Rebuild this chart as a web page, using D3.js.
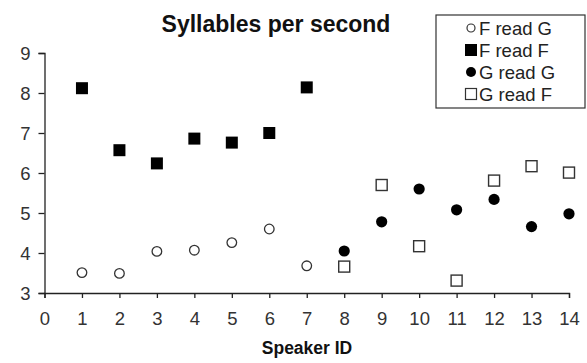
<!DOCTYPE html>
<html><head><meta charset="utf-8">
<script src="https://cdn.jsdelivr.net/npm/d3@7"></script>
<style>body{margin:0;background:#fff}svg{display:block}text{font-family:Arial,"Liberation Sans",sans-serif}</style>
</head><body><svg id="c" width="587" height="363"></svg>
<script>
const speakersF = [1,2,3,4,5,6,7];
const speakersG = [8,9,10,11,12,13,14];
const fReadG = [3.51,3.49,4.04,4.07,4.26,4.60,3.68];
const fReadF = [8.12,6.57,6.24,6.86,6.76,7.00,8.14];
const gReadG = [4.05,4.78,5.60,5.08,5.34,4.66,4.98];
const gReadF = [3.66,5.70,4.17,3.31,5.81,6.17,6.01];
const xTicks = [0,1,2,3,4,5,6,7,8,9,10,11,12,13,14];
const yTicks = [3,4,5,6,7,8,9];
const legendLabels = ["F read G","F read F","G read G","G read F"];

const svg = d3.select("#c");
const x = d3.scaleLinear().domain([0,14]).range([44.5,569]);
const y = d3.scaleLinear().domain([3,9]).range([293,53]);

const xa = svg.append("g").attr("transform","translate(0,293)")
  .call(d3.axisBottom(x).tickValues(xTicks).tickSize(5).tickPadding(14).tickFormat(d3.format("d")));
const ya = svg.append("g").attr("transform","translate(44.5,0)")
  .call(d3.axisLeft(y).tickValues(yTicks).tickSize(6).tickPadding(8).tickFormat(d3.format("d")));
[xa,ya].forEach(a=>{
  a.attr("font-size",null).attr("font-family",null);
  a.select(".domain").attr("stroke","#222").attr("stroke-width",1.3);
  a.selectAll(".tick line").attr("stroke","#222").attr("stroke-width",1.3);
  a.selectAll(".tick text").style("font-size","18.5px").attr("fill","#333");
});
xa.selectAll(".tick text").attr("dy","0.71em");
ya.selectAll(".tick text").attr("dy","0.36em");

svg.append("text").attr("x",276).attr("y",32).attr("text-anchor","middle")
  .style("font-size","23px").attr("font-weight","bold").attr("fill","#111").text("Syllables per second");
svg.append("text").attr("x",307).attr("y",354).attr("text-anchor","middle")
  .style("font-size","17.5px").attr("font-weight","bold").attr("fill","#111").text("Speaker ID");

function drawSquares(xs, ys, fill){
  const s = fill?12:11;
  svg.append("g").selectAll("rect").data(xs).join("rect")
    .attr("x",(d)=>x(d)-s/2).attr("y",(d,i)=>y(ys[i])-s/2)
    .attr("width",s).attr("height",s)
    .attr("fill",fill?"#000":"#fff").attr("stroke",fill?"none":"#333").attr("stroke-width",1.4);
}
function drawCircles(xs, ys, fill){
  svg.append("g").selectAll("circle").data(xs).join("circle")
    .attr("cx",d=>x(d)).attr("cy",(d,i)=>y(ys[i])).attr("r",fill?5.6:4.8)
    .attr("fill",fill?"#000":"#fff").attr("stroke",fill?"none":"#333").attr("stroke-width",1.3);
}
drawCircles(speakersF, fReadG, false);
drawSquares(speakersF, fReadF, true);
drawCircles(speakersG, gReadG, true);
drawSquares(speakersG, gReadF, false);

// legend
const lg = svg.append("g");
lg.append("rect").attr("x",436).attr("y",15).attr("width",149).attr("height",93)
  .attr("fill","#fff").attr("stroke","#333").attr("stroke-width",1.2);
const rowY = d3.scalePoint().domain(legendLabels).range([28,94]);
legendLabels.forEach((lab,i)=>{
  const cy = rowY(lab), cx = 471;
  if(i===0) lg.append("circle").attr("cx",cx).attr("cy",cy).attr("r",4).attr("fill","#fff").attr("stroke","#333").attr("stroke-width",1.2);
  if(i===1) lg.append("rect").attr("x",cx-6).attr("y",cy-6).attr("width",12).attr("height",12).attr("fill","#000");
  if(i===2) lg.append("circle").attr("cx",cx).attr("cy",cy).attr("r",5).attr("fill","#000");
  if(i===3) lg.append("rect").attr("x",cx-5.5).attr("y",cy-5.5).attr("width",11).attr("height",11).attr("fill","#fff").attr("stroke","#333").attr("stroke-width",1.2);
  lg.append("text").attr("x",479).attr("y",cy).attr("dy","0.36em").style("font-size","18.5px").attr("fill","#222").text(lab);
});
</script></body></html>
